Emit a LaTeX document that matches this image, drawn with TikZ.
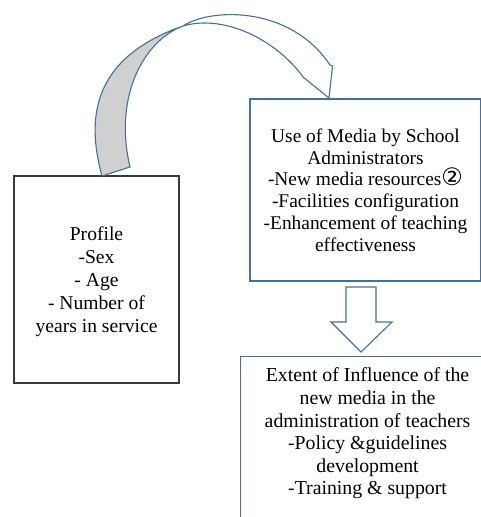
\documentclass[tikz,border=0pt]{standalone}
\usepackage{fontspec}
\setmainfont{Liberation Serif}
\newfontfamily\serifface{Liberation Serif}
\newfontfamily\dvsans{DejaVu Sans}
\usetikzlibrary{calc}
\definecolor{office}{HTML}{41719C}
\definecolor{bandgray}{HTML}{D0D0D0}
\definecolor{darkframe}{HTML}{3A3A3A}
\tikzset{
  bluebox/.style={draw=office, line width=1.1pt, rectangle, fill=white},
  blackbox/.style={draw=darkframe, line width=1.3pt, rectangle, fill=white},
  txt/.style={align=center, text=black, inner sep=0pt},
  shapeline/.style={draw=office, line width=1.1pt, line join=miter},
}
\begin{document}
\begin{tikzpicture}[x=1pt,y=-1pt]
\clip (0,0) rectangle (481,517);
\useasboundingbox (0,0) rectangle (481,517);

% boxes
\node[blackbox, minimum width=165pt, minimum height=207pt] (profile) at (96.5,279.5) {};
\node[txt, font=\serifface\fontsize{19.6}{23}\selectfont] (profiletext) at ($(profile.center)+(0,2)$)
  {Profile\\-Sex\\- Age\\- Number of\\years in service};

\node[bluebox, minimum width=231pt, minimum height=182pt] (use) at (365.5,190) {};
\node[txt, font=\serifface\fontsize{19.4}{21.8}\selectfont] (usetext) at (use.center)
  {Use of Media by School\\Administrators\\-New media resources{\dvsans\fontsize{24}{19}\selectfont ②}\\-Facilities configuration\\-Enhancement of teaching\\effectiveness};

\node[bluebox, anchor=north west, minimum width=254pt, minimum height=200pt] (extent) at (240,356) {};
\node[txt, font=\serifface\fontsize{19.8}{22.6}\selectfont] (extenttext) at ($(extent.north)+(0,77.5)$)
  {Extent of Influence of the\\new media in the\\administration of teachers\\-Policy \&guidelines\\development\\-Training \& support};

% curved arrow: shaded back part
\coordinate (cross) at (183,26);
\fill[bandgray] (102,176) .. controls (86,118) and (92,58) .. (cross)
   .. controls (145,40) and (113,95) .. (130,167) -- cycle;
\draw[shapeline] (102,176) .. controls (86,118) and (92,58) .. (cross)
   .. controls (145,40) and (113,95) .. (130,167) -- cycle;
% front part with head
\filldraw[shapeline, fill=white] (cross) .. controls (210,8) and (290,5) .. (330,65)
   -- (332.5,66) -- (329,98) -- (303,77) -- (301,74)
   .. controls (270,35) and (220,15) .. (cross);

% block arrow down
\filldraw[shapeline, fill=white] (346,287) -- (376,287) -- (376,322) -- (392,322)
   -- (361,352) -- (331,322) -- (346,322) -- cycle;
\end{tikzpicture}
\end{document}
